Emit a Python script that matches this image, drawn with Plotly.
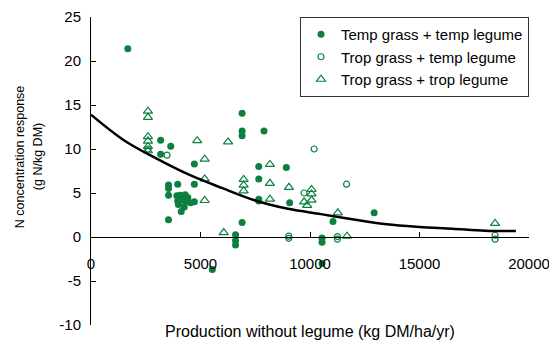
import plotly.graph_objects as go

# ---- data ----
temp_temp_x = [1680, 3180, 3640, 3180, 4720, 3540, 3540, 3960, 4720, 3540, 3920, 4080,
               4300, 4420, 3960, 4150, 4330, 4550, 4720, 3990, 4260, 4120, 3540, 5540,
               6600, 6600, 6600, 6900, 6900, 6900, 6900, 7900, 7660, 7660, 7660, 7660,
               8920, 9070, 10550, 10550, 10550, 11050, 12930]
temp_temp_y = [21.4, 11.0, 10.3, 9.4, 8.3, 5.9, 5.5, 6.0, 6.0, 4.75, 4.7, 4.75,
               4.8, 4.5, 4.1, 4.2, 4.0, 3.9, 4.0, 3.7, 3.4, 2.9, 1.95, -3.7,
               0.25, -0.4, -0.9, 14.05, 12.05, 11.5, 1.65, 12.05, 8.0, 6.6, 4.3, 4.1,
               7.9, 3.9, -0.1, -0.6, -3.0, 1.75, 2.75]

trop_temp_x = [2600, 3470, 10190, 9730, 11670, 9030, 9030, 11250, 11250, 18450, 18450]
trop_temp_y = [10.0, 9.3, 10.0, 5.0, 6.0, 0.1, -0.15, 0.05, -0.25, 0.2, -0.25]

trop_trop_x = [2600, 2600, 2600, 2600, 2600, 2600, 4850, 6260, 5190, 5190, 5190,
               6970, 6970, 6970, 6060, 8170, 8170, 8170, 9040, 10070, 10070, 10070,
               9730, 9870, 11270, 11690, 18450]
trop_trop_y = [14.3, 13.6, 11.4, 10.9, 10.3, 9.8, 10.95, 10.8, 8.85, 6.6, 4.15,
               6.55, 5.9, 5.25, 0.5, 8.25, 6.1, 4.3, 5.65, 5.4, 4.9, 4.2,
               4.0, 3.6, 2.75, 0.1, 1.55]

curve_x = [0, 1500, 3000, 4500, 6000, 7500, 9000, 10500, 12000, 13500, 15000, 16500, 18000, 19400]
curve_y = [13.9, 11.0, 8.9, 7.05, 5.55, 4.15, 3.2, 2.6, 2.0, 1.45, 1.15, 0.95, 0.72, 0.68]

x_ticks = [0, 5000, 10000, 15000, 20000]
y_ticks = [-10, -5, 0, 5, 10, 15, 20, 25]

series_names = ["Temp grass + temp legume", "Trop grass + temp legume", "Trop grass + trop legume"]
x_title = "Production without legume (kg DM/ha/yr)"
y_title_lines = ["N concentration response", "(g N/kg DM)"]

GREEN = "#0b8040"
FONT = "Arial, Liberation Sans, sans-serif"

fig = go.Figure()
fig.add_trace(go.Scatter(x=temp_temp_x, y=temp_temp_y, mode="markers", name=series_names[0],
                         marker=dict(symbol="circle", size=7, color=GREEN)))
fig.add_trace(go.Scatter(x=trop_temp_x, y=trop_temp_y, mode="markers", name=series_names[1],
                         marker=dict(symbol="circle-open", size=6, color=GREEN, line=dict(width=1.2))))
fig.add_trace(go.Scatter(x=trop_trop_x, y=trop_trop_y, mode="markers", name=series_names[2],
                         marker=dict(symbol="triangle-up-open", size=8, color=GREEN, line=dict(width=1.2))))
fig.add_trace(go.Scatter(x=curve_x, y=curve_y, mode="lines", showlegend=False,
                         line=dict(color="black", width=2.5, shape="spline")))

fig.update_layout(
    width=549, height=342,
    margin=dict(l=91, r=20, t=17, b=17),
    paper_bgcolor="white", plot_bgcolor="white",
    font=dict(family=FONT, size=15, color="black"),
    showlegend=True,
    legend=dict(x=1, xanchor="right", y=1, yanchor="top",
                bordercolor="#333333", borderwidth=1, bgcolor="white",
                font=dict(size=15), itemwidth=30, tracegroupgap=0),
    xaxis=dict(range=[0, 20000], tickvals=x_ticks, ticktext=[str(v) for v in x_ticks],
               anchor="free", position=10 / 35, showline=True, linecolor="black", linewidth=1,
               ticks="inside", ticklen=5, tickcolor="black", ticklabelstandoff=13,
               ticklabeloverflow="allow", automargin=False,
               showgrid=False, zeroline=False),
    yaxis=dict(range=[-10, 25], tickvals=y_ticks, ticktext=[str(v) for v in y_ticks],
               showline=True, linecolor="black", linewidth=1, automargin=False,
               ticks="inside", ticklen=5, tickcolor="black", ticklabelstandoff=6,
               showgrid=False, zeroline=False),
    annotations=[
        dict(text=x_title, xref="paper", yref="paper",
             x=0.5, y=0, xanchor="center", yanchor="middle", yshift=-6,
             showarrow=False, font=dict(size=16)),
        dict(text=y_title_lines[0], xref="paper", yref="paper",
             x=(20 - 91) / 438, y=0.545, xanchor="center", yanchor="middle", textangle=-90,
             showarrow=False, font=dict(size=12.5)),
        dict(text=y_title_lines[1], xref="paper", yref="paper",
             x=(38 - 91) / 438, y=0.545, xanchor="center", yanchor="middle", textangle=-90,
             showarrow=False, font=dict(size=12.5)),
    ],
)

fig.write_html("out.html")
